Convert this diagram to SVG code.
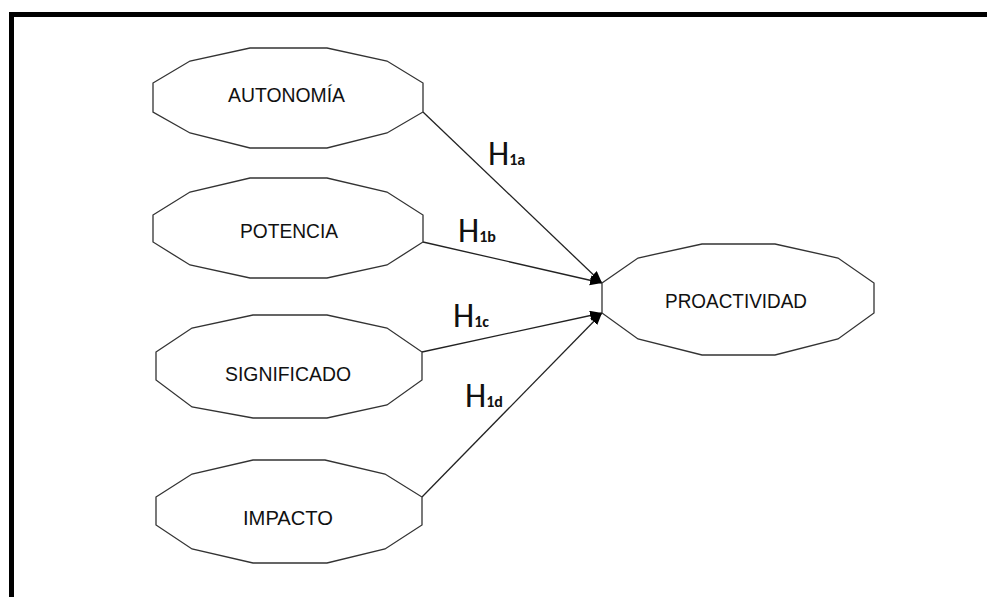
<svg xmlns="http://www.w3.org/2000/svg" width="987" height="597" viewBox="0 0 987 597">
<style>
.node{fill:#fff;stroke:#333;stroke-width:1.3}
.lbl{font-family:"Liberation Sans",Arial,sans-serif;font-size:21px;fill:#111;text-anchor:middle}
.edge{stroke:#222;stroke-width:1.3;fill:none}
.h{font-family:Carlito,Lato,"Open Sans",sans-serif;fill:#111;font-size:34px}
.h tspan{font-size:16px;font-weight:bold}
</style>
<defs>
<marker id="arr" markerUnits="userSpaceOnUse" markerWidth="13" markerHeight="11" refX="12" refY="5" orient="auto">
<path d="M0,0 L12,5 L0,10 z" fill="#000"/>
</marker>
</defs>
<rect width="987" height="597" fill="#fff"/>
<path d="M11.5,597 V14.5 H987" fill="none" stroke="#000" stroke-width="5"/>
<g id="connectors">
<line class="edge" x1="423" y1="112" x2="602" y2="283" marker-end="url(#arr)"/>
<line class="edge" x1="423" y1="242" x2="602" y2="283" marker-end="url(#arr)"/>
<line class="edge" x1="422" y1="352" x2="602" y2="313" marker-end="url(#arr)"/>
<line class="edge" x1="422" y1="497" x2="602" y2="313" marker-end="url(#arr)"/>
<text class="h" x="488" y="165">H<tspan>1a</tspan></text>
<text class="h" x="458" y="242">H<tspan>1b</tspan></text>
<text class="h" x="453" y="327">H<tspan>1c</tspan></text>
<text class="h" x="465" y="407">H<tspan>1d</tspan></text>
</g>
<g id="autonomia">
<polygon class="node" points="153,83 190,61 250,48 327,48 387,61 423,83 423,112 387,133 327,148 250,148 190,133 153,112"/>
<text class="lbl" x="286.5" y="102" textLength="117" lengthAdjust="spacingAndGlyphs">AUTONOMÍA</text>
</g>
<g id="potencia">
<polygon class="node" points="153,215 190,192 250,178 327,178 387,192 423,215 423,242 387,265 327,278 250,278 190,265 153,242"/>
<text class="lbl" x="289" y="238" textLength="98" lengthAdjust="spacingAndGlyphs">POTENCIA</text>
</g>
<g id="significado">
<polygon class="node" points="156,352 192,328 253,315 327,315 387,328 422,352 422,380 387,405 327,418 253,418 192,407 156,380"/>
<text class="lbl" x="288" y="381" textLength="126" lengthAdjust="spacingAndGlyphs">SIGNIFICADO</text>
</g>
<g id="impacto">
<polygon class="node" points="156,497 192,474 253,460 325,460 385,474 422,497 422,525 385,549 327,563 253,563 192,549 156,525"/>
<text class="lbl" x="288" y="525" textLength="90" lengthAdjust="spacingAndGlyphs">IMPACTO</text>
</g>
<g id="proactividad">
<polygon class="node" points="602,283 638,258 702,244 775,244 838,258 874,283 874,313 838,339 775,355 702,355 638,339 602,313"/>
<text class="lbl" x="736" y="308" textLength="142" lengthAdjust="spacingAndGlyphs">PROACTIVIDAD</text>
</g>
</svg>
